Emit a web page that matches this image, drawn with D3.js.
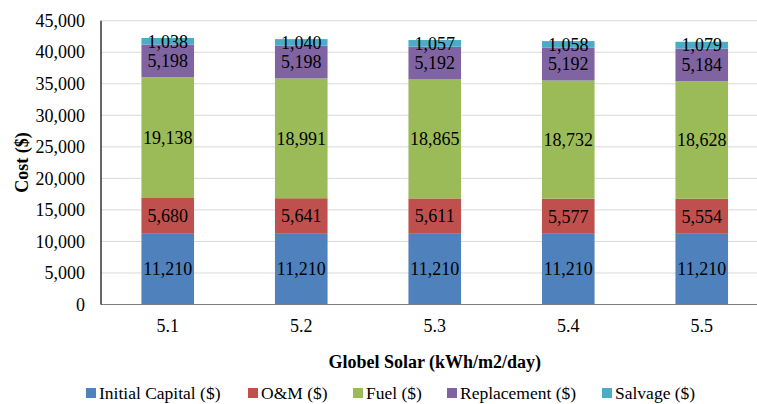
<!DOCTYPE html>
<html><head><meta charset="utf-8">
<script src="https://cdn.jsdelivr.net/npm/d3@7/dist/d3.min.js"></script>
<style>body{margin:0;background:#fff}svg{display:block}svg text{font-family:"Liberation Serif","Times New Roman",serif}</style>
</head><body><svg id="c" width="757" height="404"></svg>
<script>
const categories = ["5.1","5.2","5.3","5.4","5.5"];
const seriesNames = ["Initial Capital ($)","O&M ($)","Fuel ($)","Replacement ($)","Salvage ($)"];
const initialCapital = [11210,11210,11210,11210,11210];
const om = [5680,5641,5611,5577,5554];
const fuel = [19138,18991,18865,18732,18628];
const replacement = [5198,5198,5192,5192,5184];
const salvage = [1038,1040,1057,1058,1079];
const yTicks = [0,5000,10000,15000,20000,25000,30000,35000,40000,45000];
const colors = ["#4f81bd","#c0504d","#9bbb59","#8064a2","#4bacc6"];

const series = [initialCapital, om, fuel, replacement, salvage];
const rows = categories.map((c,i)=>{const o={cat:c}; seriesNames.forEach((s,j)=>o[s]=series[j][i]); return o;});
const stacked = d3.stack().keys(seriesNames)(rows);

const svg = d3.select("#c");
const L=101, R=768.5, T=20.7, B=304.5;
const x = d3.scaleBand().domain(categories).range([L,R]).paddingInner(0).paddingOuter(0);
const y = d3.scaleLinear().domain([0,45000]).range([B,T]);
const bw = x.step()*0.394;
const FS = 18;

// gridlines
svg.append("g").selectAll("line").data(yTicks.filter(t=>t>0)).join("line")
  .attr("x1",L).attr("x2",757).attr("y1",d=>y(d)).attr("y2",d=>y(d))
  .attr("stroke","#d9d9d9").attr("stroke-width",1);

// y axis labels
const yAxis = d3.axisLeft(y).tickValues(yTicks).tickFormat(d3.format(",")).tickSize(0).tickPadding(16);
const ya = svg.append("g").attr("transform",`translate(${L},0)`).call(yAxis);
ya.attr("font-family",null).attr("font-size",null);
ya.select(".domain").remove();
ya.selectAll("text").style("font-size",FS+"px").attr("fill","#000");

// bars
const g = svg.append("g");
stacked.forEach((s,j)=>{
  g.selectAll(null).data(s).join("rect")
    .attr("x",d=>x(d.data.cat)+x.bandwidth()/2-bw/2)
    .attr("width",bw)
    .attr("y",d=>y(d[1]))
    .attr("height",d=>y(d[0])-y(d[1]))
    .attr("fill",colors[j]);
});
stacked.forEach((s,j)=>{
  g.selectAll(null).data(s).join("text")
    .attr("x",d=>x(d.data.cat)+x.bandwidth()/2)
    .attr("y",d=>(y(d[0])+y(d[1]))/2)
    .attr("dy","0.35em")
    .attr("text-anchor","middle")
    .style("font-size",FS+"px").attr("fill","#000")
    .text(d=>d3.format(",")(d[1]-d[0]));
});

// axis lines
svg.append("line").attr("x1",L).attr("x2",757).attr("y1",B).attr("y2",B).attr("stroke","#7f7f7f").attr("stroke-width",1.2);
svg.append("line").attr("x1",L).attr("x2",L).attr("y1",T).attr("y2",B).attr("stroke","#000").attr("stroke-width",1.2);

// x labels
const xAxis = d3.axisBottom(x).tickSize(0).tickPadding(15);
const xa = svg.append("g").attr("transform",`translate(0,${B})`).call(xAxis);
xa.attr("font-family",null).attr("font-size",null);
xa.select(".domain").remove();
xa.selectAll("text").style("font-size",FS+"px").attr("fill","#000");

// titles
svg.append("text").attr("x",(L+R)/2).attr("y",362).attr("dy","0.35em").attr("text-anchor","middle")
  .style("font-weight","bold").style("font-size",FS+"px").text("Globel Solar (kWh/m2/day)");
svg.append("text").attr("transform",`translate(22,${(T+B)/2}) rotate(-90)`).attr("dy","0.35em").attr("text-anchor","middle")
  .style("font-weight","bold").style("font-size",FS+"px").text("Cost ($)");

// legend
const legX = [86,248,353,447,602];
const lg = svg.append("g");
seriesNames.forEach((s,j)=>{
  lg.append("rect").attr("x",legX[j]).attr("y",388).attr("width",10).attr("height",10).attr("fill",colors[j]);
  lg.append("text").attr("x",legX[j]+13).attr("y",393).attr("dy","0.35em")
    .style("font-size","17.5px").attr("fill","#000").text(s);
});
</script></body></html>
